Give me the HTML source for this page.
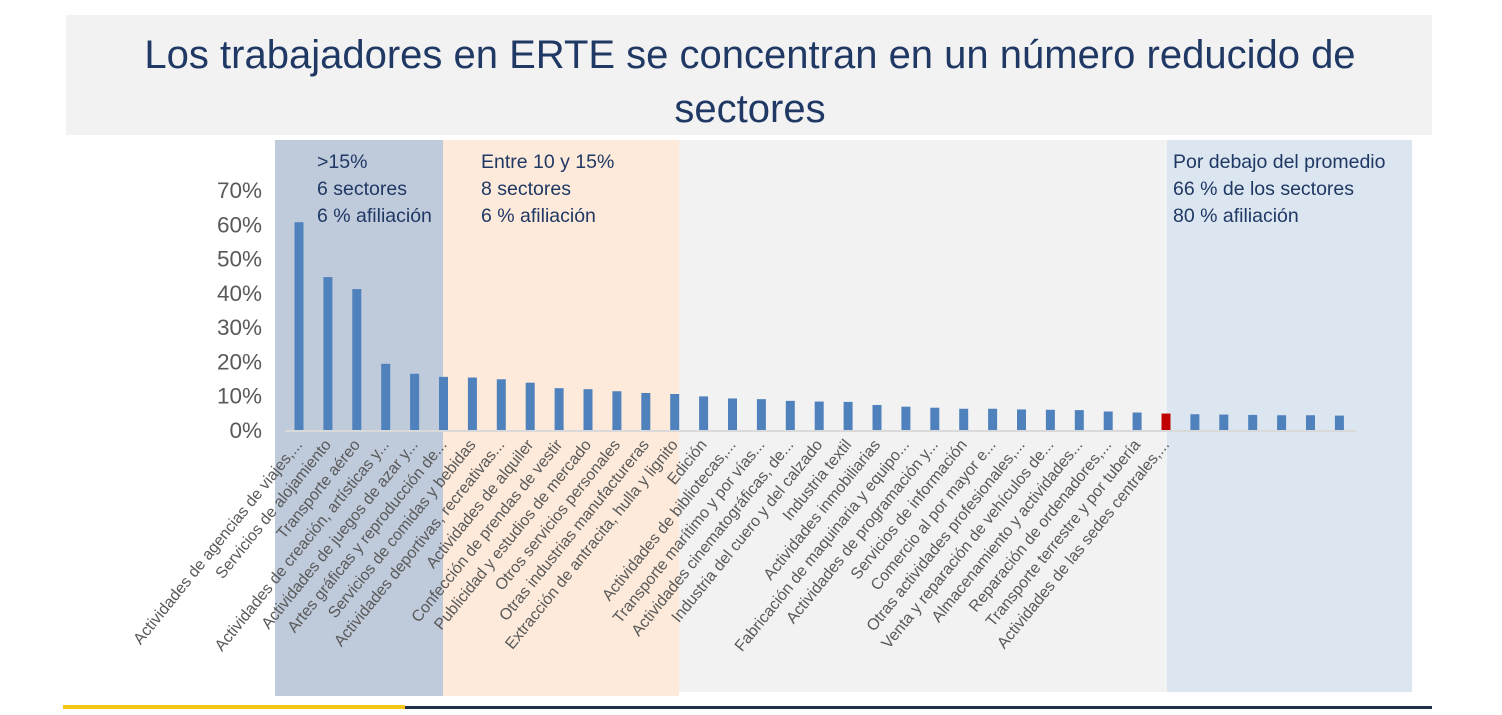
<!DOCTYPE html>
<html><head><meta charset="utf-8"><style>
body{margin:0;width:1502px;height:710px;background:#fff;overflow:hidden;font-family:"Liberation Sans",sans-serif}
</style></head><body>
<svg width="1502" height="710" xmlns="http://www.w3.org/2000/svg">
<rect x="66" y="15" width="1366" height="120" fill="#f2f2f2"/>
<text x="750" y="68" text-anchor="middle" font-size="40" fill="#1f3864">Los trabajadores en ERTE se concentran en un número reducido de</text>
<text x="750" y="122" text-anchor="middle" font-size="40" fill="#1f3864">sectores</text>
<rect x="679" y="140" width="488" height="552" fill="#f2f2f2"/>
<rect x="275" y="140" width="168" height="556" fill="#bfcadb"/>
<rect x="443" y="140" width="236" height="556" fill="#fdeada"/>
<rect x="1167" y="140" width="245" height="552" fill="#dce6f1"/>
<g font-size="19.5" fill="#1f3864">
<text x="317" y="168"><tspan x="317">&gt;15%</tspan><tspan x="317" dy="27">6 sectores</tspan><tspan x="317" dy="27">6 % afiliación</tspan></text>
<text x="481" y="168"><tspan x="481">Entre 10 y 15%</tspan><tspan x="481" dy="27">8 sectores</tspan><tspan x="481" dy="27">6 % afiliación</tspan></text>
<text x="1173" y="168"><tspan x="1173">Por debajo del promedio</tspan><tspan x="1173" dy="27">66 % de los sectores</tspan><tspan x="1173" dy="27">80 % afiliación</tspan></text>
</g>
<g id="plot"></g>
<rect x="63" y="705" width="342" height="4" fill="#f5c518"/>
<rect x="405" y="706" width="1027" height="3" fill="#1f3047"/>
</svg>
<script>
const categories=["Actividades de agencias de viajes,...","Servicios de alojamiento","Transporte aéreo","Actividades de creación, artísticas y...","Actividades de juegos de azar y...","Artes gráficas y reproducción de...","Servicios de comidas y bebidas","Actividades deportivas, recreativas...","Actividades de alquiler","Confección de prendas de vestir","Publicidad y estudios de mercado","Otros servicios personales","Otras industrias manufactureras","Extracción de antracita, hulla y lignito","Edición","Actividades de bibliotecas,...","Transporte marítimo y por vías...","Actividades cinematográficas, de...","Industria del cuero y del calzado","Industria textil","Actividades inmobiliarias","Fabricación de maquinaria y equipo...","Actividades de programación y...","Servicios de información","Comercio al por mayor e...","Otras actividades profesionales,...","Venta y reparación de vehículos de...","Almacenamiento y actividades...","Reparación de ordenadores,...","Transporte terrestre y por tubería","Actividades de las sedes centrales,...","","","","","",""];
const values=[60.6,44.6,41.1,19.3,16.4,15.5,15.3,14.8,13.8,12.2,11.9,11.3,10.8,10.5,9.8,9.2,9.0,8.5,8.3,8.2,7.3,6.8,6.5,6.2,6.2,6.0,5.9,5.8,5.4,5.1,4.8,4.6,4.5,4.4,4.3,4.3,4.2];
const highlightIndex=30;
const yTicks=[0,10,20,30,40,50,60,70];
const NS="http://www.w3.org/2000/svg";
const g=document.getElementById('plot');
const y0=430,pxPer=240/70;
const yScale=v=>y0-v*pxPer;
const x0=299,step=28.9;
const xScale=i=>x0+i*step;
function mk(t,a){const e=document.createElementNS(NS,t);for(const k in a)e.setAttribute(k,a[k]);g.appendChild(e);return e;}
yTicks.forEach(t=>{const e=mk('text',{x:262,y:yScale(t)+8,'text-anchor':'end','font-size':22.5,fill:'#595959'});e.textContent=t+'%';

});
const ax=mk('line',{x1:285,x2:1356,y1:y0+1,y2:y0+1,stroke:'#d9d9d9','stroke-width':2});


values.forEach((v,i)=>{const x=xScale(i);
const b=mk('rect',{x:x-4.5,y:yScale(v),width:9,height:y0-yScale(v),fill:i===highlightIndex?'#c00000':'#4f81bd'});


if(categories[i]){const t=mk('text',{x:0,y:0,'text-anchor':'end','font-size':16,fill:'#595959',transform:`translate(${x+4},${y0+15}) rotate(-51)`});t.textContent=categories[i];

}
});
</script>
</body></html>
